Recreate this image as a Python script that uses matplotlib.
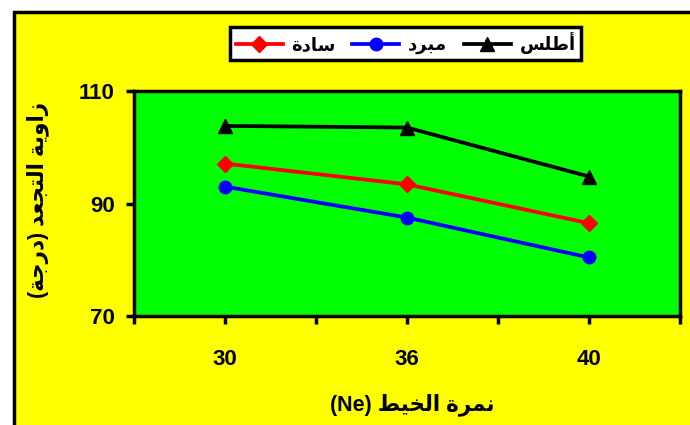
import matplotlib
matplotlib.use('Agg')
import matplotlib.pyplot as plt
from matplotlib.patches import Rectangle

# Arabic text written with presentation forms, in visual (left-to-right) order
lbl_plain = "\uFE93\uFEA9\uFE8E\uFEB3"     # سادة
lbl_cooled = "\uFEA9\uFEAE\uFE92\uFEE3"    # مبرد
lbl_satin = "\uFEB2\uFEE0\uFEC3\uFE83"     # أطلس
ylab = "(\uFE94\uFE9F\uFEAD\uFEA9) \uFEAA\uFECC\uFEA0\uFE98\uFEDF\uFE8D \uFE94\uFEF3\uFEED\uFE8D\uFEAF"
xlab = "(Ne) \uFEC2\uFEF4\uFEA8\uFEDF\uFE8D \uFE93\uFEAE\uFEE4\uFEE7"

counts = ['30', '36', '40']
plain = [97.1, 93.4, 86.5]
cooled = [93.0, 87.5, 80.4]
satin = [103.8, 103.5, 94.8]

fams = ['Liberation Sans', 'DejaVu Sans']

fig = plt.figure(figsize=(6.9, 4.25), dpi=100)
fig.patch.set_facecolor('white')
bg = Rectangle((14/690, -0.05), 1.1, 0.972 + 0.05, transform=fig.transFigure,
               facecolor='#ffff00', edgecolor='black', linewidth=2.5, zorder=-10)
fig.patches.append(bg)

ax = fig.add_axes([134/690, 1 - 316/425, (680 - 134)/690, (316 - 91)/425])
ax.set_facecolor('#00ff00')

x = range(len(counts))
ax.plot(x, plain, color='red', marker='D', markersize=8, linewidth=2.7, label=lbl_plain)
ax.plot(x, cooled, color='blue', marker='o', markersize=9, linewidth=2.7, label=lbl_cooled)
ax.plot(x, satin, color='black', marker='^', markersize=10, linewidth=2.7, label=lbl_satin)

ax.set_xlim(-0.5, 2.5)
ax.set_ylim(70, 110)
ax.set_yticks([70, 90, 110])
ax.set_xticks(list(x))
ax.set_xticks([-0.5, 0.5, 1.5, 2.5], minor=True)
ax.set_xticklabels(counts)
for s in ax.spines.values():
    s.set_linewidth(2.5)
ax.tick_params(which='both', direction='out', length=6, width=2.5)
ax.tick_params(axis='y', pad=8)
ax.tick_params(axis='x', pad=18)
ax.tick_params(axis='y', which='minor', length=0)
for t in ax.get_xticklabels() + ax.get_yticklabels():
    t.set_fontfamily(fams)
    t.set_fontweight('bold')
    t.set_fontsize(16)

fig.text(38/690, 1 - 200/425, ylab, rotation=90, ha='center', va='center',
         family=fams, fontweight='bold', fontsize=15.5)
fig.text(412/690, 1 - 405/425, xlab, ha='center', va='center',
         family=fams, fontweight='bold', fontsize=15.5)

leg = fig.legend(loc='center', bbox_to_anchor=(0.588, 0.898), ncol=3, frameon=True,
                 fancybox=False, edgecolor='black', framealpha=1, handlelength=2.6,
                 columnspacing=0.9, handletextpad=0.5, borderpad=0.3,
                 prop={'family': fams, 'weight': 'bold', 'size': 13})
leg.get_frame().set_linewidth(2.5)

fig.savefig('out.png', dpi=100)
